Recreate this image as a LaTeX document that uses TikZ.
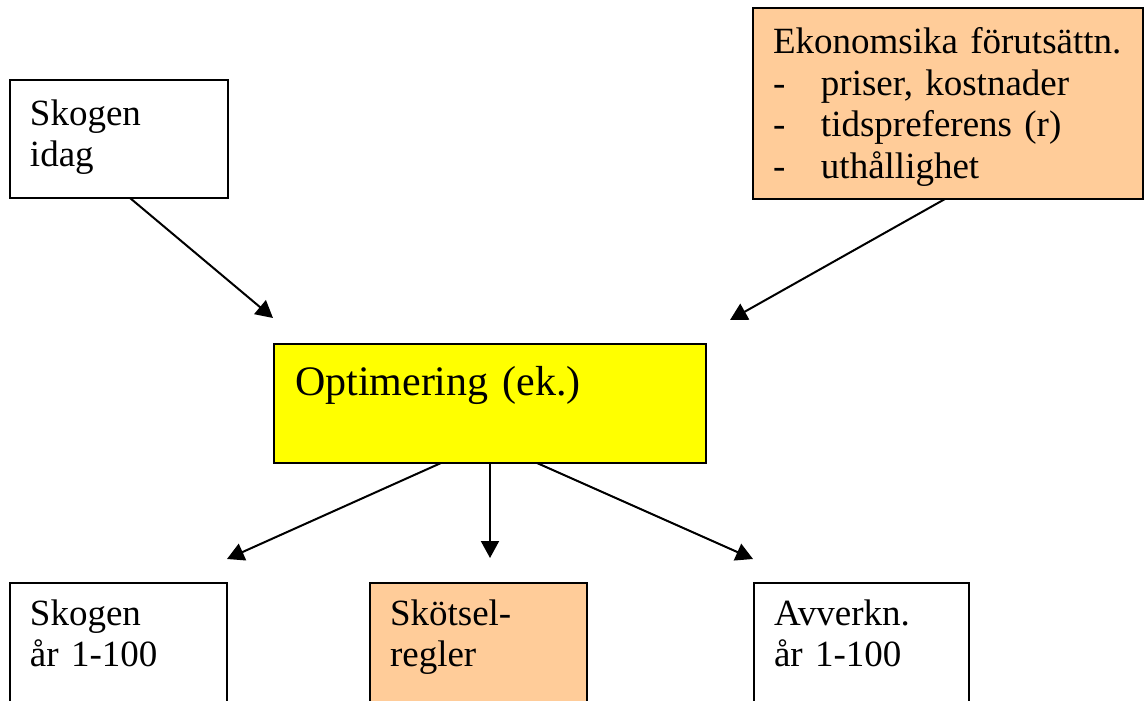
\documentclass[tikz,border=0pt]{standalone}
\usepackage{fontspec}
\setmainfont{Liberation Serif}
\usetikzlibrary{arrows.meta}
\definecolor{ljusorange}{HTML}{FFCC99}
\definecolor{gul}{HTML}{FFFF00}

\begin{document}
\begin{tikzpicture}[x=1pt,y=-1pt,
		ruta/.style={draw,line width=2pt,rectangle,anchor=north west,outer sep=0pt,inner xsep=20pt,inner ysep=0pt,align=left,font=\fontsize{37}{41.5}\selectfont},
		pil/.style={line width=2pt,-{Triangle[length=17pt,width=18pt]}}]
		\useasboundingbox (0,0) rectangle (1144,701);

		% indata
		\node[ruta,text width=178pt,text height=45pt,text depth=73pt] (idag) at (10,80) {Skogen\\idag};
		\node[ruta,fill=ljusorange,text width=350pt,text height=46pt,text depth=145pt] (eko) at (753,8) {Ekonomsika förutsättn.\\\makebox[48pt][l]{-}priser, kostnader\\\makebox[48pt][l]{-}tidspreferens (r)\\\makebox[48pt][l]{-}uthållighet};

		% optimering
		\node[ruta,fill=gul,inner xsep=21pt,text width=390pt,text height=51pt,text depth=68pt,font=\fontsize{42}{47}\selectfont] (opt) at (274,344) {Optimering (ek.)};

		% resultat
		\node[ruta,text width=177pt,text height=42pt,text depth=95pt] (skogar) at (10,583) {Skogen\\år 1-100};
		\node[ruta,fill=ljusorange,text width=177pt,text height=42pt,text depth=95pt] (skotsel) at (370,583) {Skötsel-\\regler};
		\node[ruta,text width=175pt,text height=42pt,text depth=95pt] (avverk) at (754,583) {Avverkn.\\år 1-100};

		\coordinate (inV) at (273,318);
		\coordinate (inH) at (730,320);
		\coordinate (utV) at (227,559);
		\coordinate (utM) at (490,558);
		\coordinate (utH) at (753,559);

		\draw[pil] ([xshift=11pt]idag.south) -- (inV);
		\draw[pil] ([xshift=-3pt]eko.south) -- (inH);
		\draw[pil] ([xshift=-49pt]opt.south) -- (utV);
		\draw[pil] (opt.south) -- (utM);
		\draw[pil] ([xshift=47pt]opt.south) -- (utH);
	\end{tikzpicture}
\end{document}
